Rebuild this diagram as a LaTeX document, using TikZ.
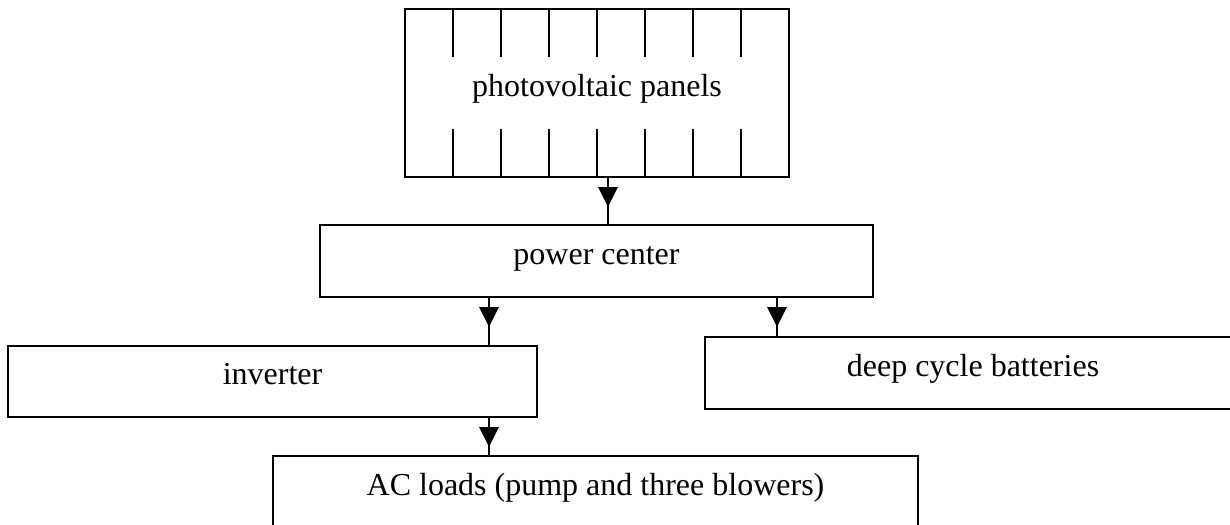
\documentclass[tikz,border=0pt,12pt]{standalone}
\usepackage{fontspec}
\setmainfont{Liberation Serif}
\usetikzlibrary{arrows.meta,decorations.markings}

\tikzset{every picture/.style={line width=0.75pt}}
\tikzset{
  box/.style={draw, rectangle, inner sep=0pt, text height=0.7em, text depth=0.5em},
  flow/.style={postaction={decorate}, decoration={markings,
      mark=at position 10.9pt with {\arrow{Triangle[width=7.2pt,length=7.5pt]}}}}
}

\begin{document}
\begin{tikzpicture}[x=0.375pt, y=-0.375pt]
  \useasboundingbox (0,0) rectangle (1230,525);

  % --- les blocs ---
  \node[box, minimum width=144pt, minimum height=63pt] (pv) at (597,93) {photovoltaic panels};
  \node[box, minimum width=207.4pt, minimum height=27pt] (pc) at (596.5,261) {power center};
  \node[box, minimum width=198.4pt, minimum height=26.6pt] (inv) at (272.5,381.5) {inverter};
  \node[box, minimum width=201pt, minimum height=27pt] (bat) at (973,373) {deep cycle batteries};
  \node[box, minimum width=241.9pt, minimum height=27pt] (ac) at (595.5,492) {AC loads (pump and three blowers)};

  % --- cellules des panneaux ---
  \foreach \k in {1,...,7} {
    \draw (405+48*\k,9) -- ++(0,48);
    \draw (405+48*\k,129) -- ++(0,48);
  }

  % --- les flèches ---
  \coordinate (c1) at (608,0);
  \coordinate (c2) at (489,0);
  \coordinate (c3) at (777,0);
  \draw[flow] (pv.south -| c1) -- (pc.north -| c1);
  \draw[flow] (pc.south -| c2) -- (inv.north -| c2);
  \draw[flow] (pc.south -| c3) -- (bat.north -| c3);
  \draw[flow] (inv.south -| c2) -- (ac.north -| c2);
\end{tikzpicture}
\end{document}
